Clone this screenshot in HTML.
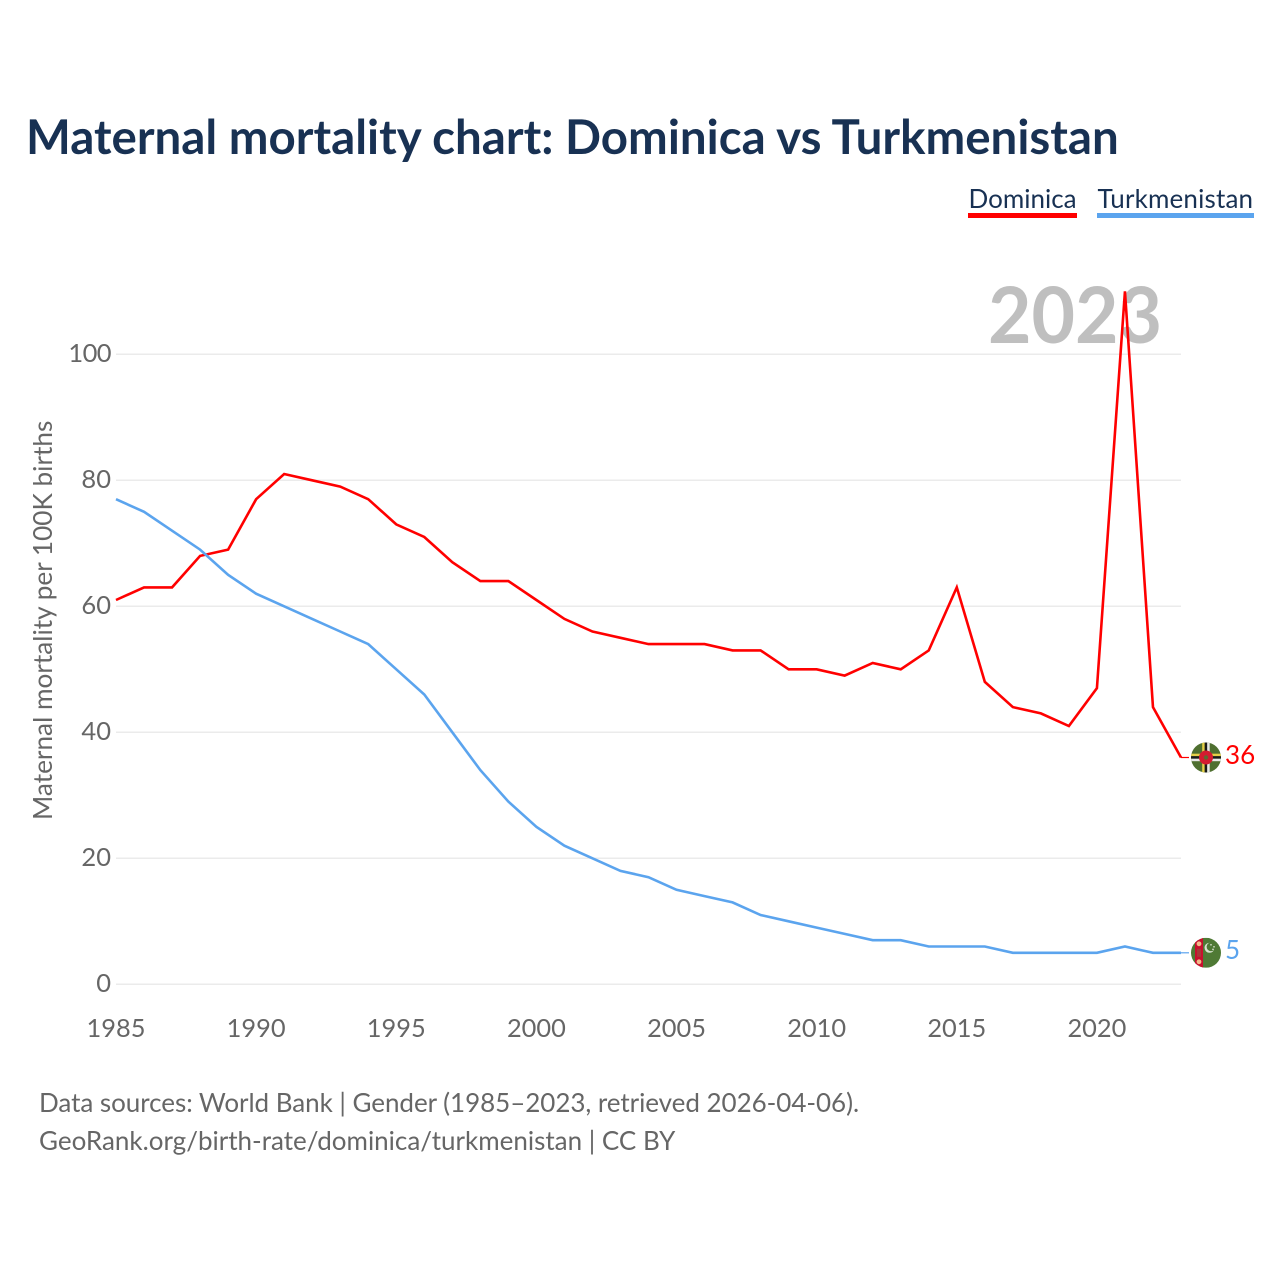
<!DOCTYPE html>
<html lang="en">
<head>
<meta charset="utf-8">
<title>Maternal mortality chart: Dominica vs Turkmenistan</title>
<style>
html,body{margin:0;padding:0;background:#fff;}
#root{position:relative;width:1280px;height:1280px;overflow:hidden;background:#fff;font-family:"Lato","Carlito","Liberation Sans",sans-serif;}
#root svg{position:absolute;left:0;top:0;display:block;}
.t{position:absolute;white-space:nowrap;line-height:1;}
</style>
</head>
<body>
<div id="root">
  <div class="t" style="left:988px;top:274px;font-size:78px;font-weight:700;color:#bfbfbf;transform-origin:0 0;transform:scaleX(0.962);">2023</div>

  <svg id="chart" xmlns="http://www.w3.org/2000/svg" width="1280" height="1280" viewBox="0 0 1280 1280">
    <rect x="968" y="213" width="109" height="5" fill="#ff0000"/>
    <rect x="1097" y="213" width="157" height="5" fill="#5ba4ee"/>
    <g id="grid"></g>
    <g id="series"></g>

    <g id="flag-dominica">
      <clipPath id="clip-dm"><circle cx="0" cy="0" r="15"/></clipPath>
      <g clip-path="url(#clip-dm)">
        <rect x="-15" y="-15" width="30" height="30" fill="#4f6f30"/>
        <rect x="-3.8" y="-15" width="2.5" height="30" fill="#e6cf48"/>
        <rect x="-1.3" y="-15" width="2.5" height="30" fill="#1a1a1a"/>
        <rect x="1.2" y="-15" width="2.5" height="30" fill="#e8e8e8"/>
        <rect x="-15" y="-3.8" width="30" height="2.5" fill="#e6cf48"/>
        <rect x="-15" y="-1.3" width="30" height="2.5" fill="#1a1a1a"/>
        <rect x="-15" y="1.2" width="30" height="2.5" fill="#e8e8e8"/>
        <circle cx="0" cy="0" r="7" fill="#d41c30"/>
        <circle cx="0" cy="0" r="2.2" fill="#5f6a30"/>
      </g>
    </g>
    <g id="flag-turkmenistan">
      <clipPath id="clip-tm"><circle cx="0" cy="0" r="15"/></clipPath>
      <g clip-path="url(#clip-tm)">
        <rect x="-15" y="-15" width="30" height="30" fill="#4f7a35"/>
        <rect x="-11" y="-15" width="8" height="30" fill="#c8102e"/>
        <circle cx="-7" cy="-9" r="2.4" fill="#f2b98a"/>
        <rect x="-9" y="-4" width="4" height="8" fill="#a83838"/>
        <circle cx="-7" cy="9" r="2.4" fill="#f2b98a"/>
        <circle cx="3.5" cy="-5" r="5" fill="#d8e2d0"/>
        <circle cx="5" cy="-6" r="4.4" fill="#4f7a35"/>
        <circle cx="5" cy="-8" r="0.8" fill="#e6ece0"/>
        <circle cx="8" cy="-6" r="0.8" fill="#e6ece0"/>
        <circle cx="7" cy="-3.5" r="0.8" fill="#e6ece0"/>
      </g>
    </g>
  </svg>

  <div class="t" style="left:25.5px;top:113px;font-size:48px;font-weight:700;color:#183153;transform-origin:0 0;transform:scaleX(0.989);">Maternal mortality chart: Dominica vs Turkmenistan</div>
  <div class="t" style="left:968.5px;top:185px;font-size:26px;color:#183153;">Dominica</div>
  <div class="t" style="left:1097.5px;top:185px;font-size:26px;color:#183153;letter-spacing:0.17px;">Turkmenistan</div>
  <div class="t" style="left:28.5px;top:820px;font-size:26.2px;color:#666666;transform-origin:0 0;transform:rotate(-90deg);">Maternal mortality per 100K births</div>
  <div id="yticks"></div>
  <div id="xticks"></div>
  <div id="endlabels"></div>
  <div class="t" style="left:39px;top:1089px;font-size:26px;color:#666666;letter-spacing:-0.04px;">Data sources: World Bank | Gender (1985–2023, retrieved 2026-04-06).</div>
  <div class="t" style="left:39px;top:1127px;font-size:26px;color:#666666;">GeoRank.org/birth-rate/dominica/turkmenistan | CC BY</div>
</div>
<script>
const years = [1985,1986,1987,1988,1989,1990,1991,1992,1993,1994,1995,1996,1997,1998,1999,2000,2001,2002,2003,2004,2005,2006,2007,2008,2009,2010,2011,2012,2013,2014,2015,2016,2017,2018,2019,2020,2021,2022,2023];
const dominica = [61,63,63,68,69,77,81,80,79,77,73,71,67,64,64,61,58,56,55,54,54,54,53,53,50,50,49,51,50,53,63,48,44,43,41,47,110,44,36];
const turkmenistan = [77,75,72,69,65,62,60,58,56,54,50,46,40,34,29,25,22,20,18,17,15,14,13,11,10,9,8,7,7,6,6,6,5,5,5,5,6,5,5];
const yTicks = [0,20,40,60,80,100];
const xTicks = [1985,1990,1995,2000,2005,2010,2015,2020];

const NS = 'http://www.w3.org/2000/svg';
const xScale = function (yr) { return 116 + (yr - 1985) * (1181 - 116) / (2023 - 1985); };
const yScale = function (v) { return 984.3 - v * 6.3; };

function mk(tag, parent, attrs) {
  const el = document.createElementNS(NS, tag);
  for (const k in attrs) el.setAttribute(k, attrs[k]);
  parent.appendChild(el);
  return el;
}
function label(parent, txt, size, color, left, baseline, right) {
  const el = document.createElement('div');
  el.className = 't';
  el.textContent = txt;
  el.style.fontSize = size + 'px';
  el.style.color = color;
  el.style.top = Math.round(baseline - 0.887 * size) + 'px';
  if (right !== undefined) el.style.right = right + 'px';
  else el.style.left = left + 'px';
  parent.appendChild(el);
  return el;
}

const grid = document.getElementById('grid');
const yG = document.getElementById('yticks');
const xG = document.getElementById('xticks');
const endG = document.getElementById('endlabels');
const seriesG = document.getElementById('series');

yTicks.forEach(function (t) {
  const line = mk('line', grid, {x1: 116, x2: 1181, y1: yScale(t), y2: yScale(t), stroke: '#ebebeb', 'stroke-width': 1.5});
  
  
  const el = label(yG, String(t), 25.5, '#666666', 0, yScale(t) + 9.4, 1280 - 111);
  if (t >= 100) el.style.letterSpacing = '-0.6px';
  
  
});

xTicks.forEach(function (t) {
  const el = label(xG, String(t), 25.4, '#666666', xScale(t), 1039);
  el.style.transform = 'translateX(-50%)';
  
  
});

function drawSeries(key, values, color, flagId) {
  const d = values.map(function (v, i) {
    return (i ? 'L' : 'M') + xScale(years[i]).toFixed(2) + ' ' + yScale(v).toFixed(2);
  }).join(' ');
  const path = mk('path', seriesG, {d: d, fill: 'none', stroke: color, 'stroke-width': 2.6, 'stroke-linejoin': 'miter'});
  
  

  const last = values[values.length - 1];
  const ly = yScale(last);
  const lx = xScale(years[years.length - 1]);
  const conn = mk('line', seriesG, {x1: lx, x2: lx + 8, y1: ly, y2: ly, stroke: color, 'stroke-width': 1.2});
  
  

  document.getElementById(flagId).setAttribute('transform', 'translate(' + (lx + 25) + ' ' + ly + ')');

  const el = label(endG, String(last), 26, color, lx + 44, ly + 6.4);
  
  
}

drawSeries('dominica', dominica, '#ff0000', 'flag-dominica');
drawSeries('turkmenistan', turkmenistan, '#5ba4ee', 'flag-turkmenistan');
</script>
</body>
</html>
